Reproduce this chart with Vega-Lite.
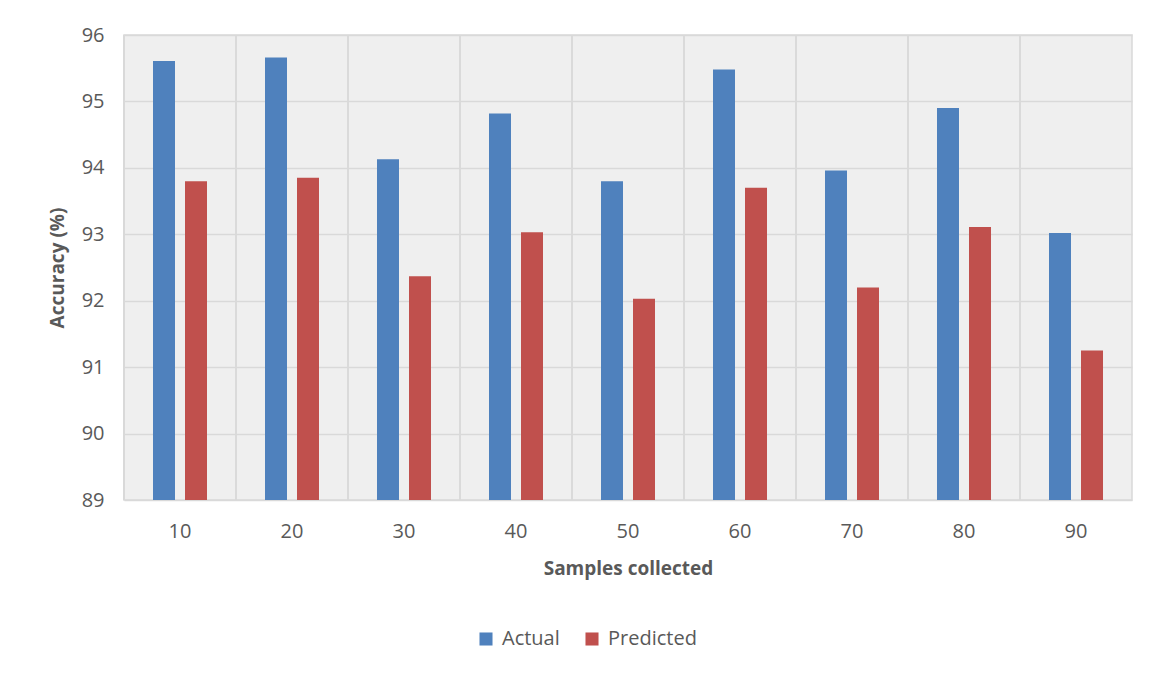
{
  "$schema": "https://vega.github.io/schema/vega-lite/v6.json",
  "width": 1008,
  "height": 465,
  "autosize": {"type": "none"},
  "padding": {"left": 124, "top": 35, "right": 23, "bottom": 175},
  "background": "white",
  "config": {
    "font": "Open Sans",
    "view": {"fill": "#efefef", "stroke": "#d9d9d9", "strokeWidth": 1.5},
    "axis": {"labelFont": "Open Sans", "titleFont": "Open Sans", "labelColor": "#595959", "titleColor": "#595959", "labelFontSize": 20, "titleFontSize": 19, "titleFontWeight": "bold", "gridColor": "#d9d9d9", "gridWidth": 1.5, "domain": false, "ticks": false},
    "legend": {"labelFont": "Open Sans", "labelFontSize": 20, "labelColor": "#595959"}
  },
  "data": {
    "values": [
      {"samples": "10", "series": "Actual", "accuracy": 95.61},
      {"samples": "10", "series": "Predicted", "accuracy": 93.80},
      {"samples": "20", "series": "Actual", "accuracy": 95.66},
      {"samples": "20", "series": "Predicted", "accuracy": 93.85},
      {"samples": "30", "series": "Actual", "accuracy": 94.13},
      {"samples": "30", "series": "Predicted", "accuracy": 92.37},
      {"samples": "40", "series": "Actual", "accuracy": 94.82},
      {"samples": "40", "series": "Predicted", "accuracy": 93.03},
      {"samples": "50", "series": "Actual", "accuracy": 93.80},
      {"samples": "50", "series": "Predicted", "accuracy": 92.03},
      {"samples": "60", "series": "Actual", "accuracy": 95.48},
      {"samples": "60", "series": "Predicted", "accuracy": 93.70},
      {"samples": "70", "series": "Actual", "accuracy": 93.96},
      {"samples": "70", "series": "Predicted", "accuracy": 92.20},
      {"samples": "80", "series": "Actual", "accuracy": 94.90},
      {"samples": "80", "series": "Predicted", "accuracy": 93.11},
      {"samples": "90", "series": "Actual", "accuracy": 93.02},
      {"samples": "90", "series": "Predicted", "accuracy": 91.25}
    ]
  },
  "layer": [
    {
      "mark": {"type": "rule", "color": "#d9d9d9", "strokeWidth": 1.5},
      "encoding": {
        "x": {"field": "samples", "type": "nominal", "bandPosition": 0,
              "scale": {"paddingInner": 0, "paddingOuter": 0},
              "axis": {"title": "Samples collected", "labelPadding": 21, "titlePadding": 18, "labelAngle": 0, "grid": false}}
      }
    },
    {
      "mark": {"type": "bar", "clip": true},
      "encoding": {
        "x": {"field": "samples", "type": "nominal"},
        "xOffset": {"field": "series", "type": "nominal", "scale": {"paddingInner": 0.3125, "paddingOuter": 0.906}},
        "y": {"field": "accuracy", "type": "quantitative",
              "scale": {"domain": [89, 96], "zero": false, "nice": false},
              "axis": {"title": "Accuracy (%)", "values": [89, 90, 91, 92, 93, 94, 95, 96], "labelOverlap": false, "labelPadding": 20, "titlePadding": 14, "grid": true}},
        "color": {"field": "series", "type": "nominal",
                  "scale": {"domain": ["Actual", "Predicted"], "range": ["#4f81bd", "#c0504d"]},
                  "legend": {"title": null, "orient": "none", "legendX": 352, "legendY": 594, "direction": "horizontal", "symbolType": "square", "symbolSize": 170, "symbolStrokeWidth": 0, "columnPadding": 22, "labelOffset": 6}}
      }
    }
  ]
}
